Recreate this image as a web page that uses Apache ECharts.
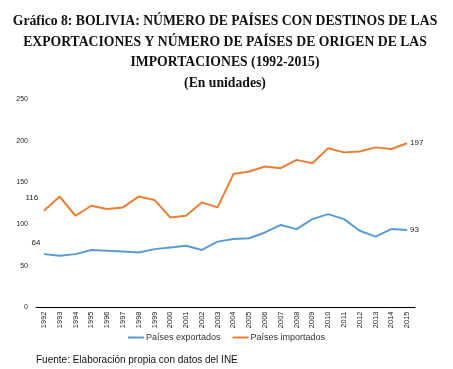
<!DOCTYPE html>
<html><head><meta charset="utf-8">
<script src="https://cdn.jsdelivr.net/npm/echarts@6/dist/echarts.min.js"></script>
<style>html,body{margin:0;padding:0;background:#fff}#c{width:453px;height:369px}</style>
</head><body><div id="c"></div>
<script>
const years = ['1992','1993','1994','1995','1996','1997','1998','1999','2000','2001','2002','2003','2004','2005','2006','2007','2008','2009','2010','2011','2012','2013','2014','2015'];
const exportados = [64,62,64,69,68,67,66,70,72,74,69,79,82,83,90,99,94,106,112,106,92,85,94,93];
const importados = [116,133,110,122,118,120,133,129,108,110,126,120,160,163,169,167,177,173,191,186,187,192,190,197];
const titleLines = ['Gráfico 8: BOLIVIA: NÚMERO DE PAÍSES CON DESTINOS DE LAS','EXPORTACIONES Y NÚMERO DE PAÍSES DE ORIGEN DE LAS','IMPORTACIONES (1992-2015)','(En unidades)'];

function withEndLabels(arr, firstOffset){
  return arr.map((v,i)=>{
    if(i===0) return {value:v,label:{show:true,position:'top',offset:firstOffset}};
    if(i===arr.length-1) return {value:v,label:{show:true,position:'right',distance:3}};
    return v;
  });
}
const chart = echarts.init(document.getElementById('c'));
chart.setOption({
  animation:false,
  graphic:[
    {type:'text',x:225,y:11.5,style:{text:titleLines.join('\n'),font:'bold 13.7px "Liberation Serif"',lineHeight:20.5,fill:'#111',align:'center',textAlign:'center'}},
    {type:'text',left:36,top:355,style:{text:'Fuente: Elaboración propia con datos del INE',font:'10px "Liberation Sans"',fill:'#111'}}
  ],
  legend:{
    bottom:22, left:'center', itemWidth:16, itemHeight:2, itemGap:12,
    icon:'rect',
    textStyle:{fontFamily:'Liberation Sans',fontSize:9,color:'#333',padding:[0,0,0,-3]},
    data:['Países exportados','Países importados']
  },
  grid:{left:36,right:38,top:99,bottom:61.5},
  xAxis:{
    type:'category',data:years,boundaryGap:true,
    axisLine:{lineStyle:{color:'#000',width:1}},
    axisTick:{show:false},
    axisLabel:{rotate:90,fontSize:7.5,fontFamily:'Liberation Sans',color:'#222',margin:4,interval:0}
  },
  yAxis:{
    type:'value',min:0,max:250,interval:50,
    axisLine:{show:false},axisTick:{show:false},splitLine:{show:false},
    axisLabel:{fontSize:7,fontFamily:'Liberation Sans',color:'#222',margin:8}
  },
  series:[
    {name:'Países exportados',type:'line',data:withEndLabels(exportados,[-8,-2]),symbol:'circle',symbolSize:0,showSymbol:true,
     lineStyle:{color:'#5B9BD5',width:2},itemStyle:{color:'#5B9BD5'},
     label:{fontSize:8,fontFamily:'Liberation Sans',color:'#222'}},
    {name:'Países importados',type:'line',data:withEndLabels(importados,[-12,-4]),symbol:'circle',symbolSize:0,showSymbol:true,
     lineStyle:{color:'#ED7D31',width:2},itemStyle:{color:'#ED7D31'},
     label:{fontSize:8,fontFamily:'Liberation Sans',color:'#222'}}
  ]
});
</script></body></html>
